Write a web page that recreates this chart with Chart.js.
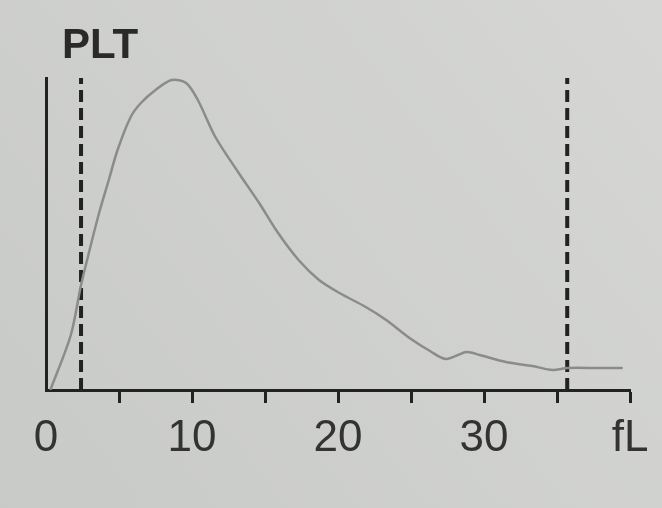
<!DOCTYPE html>
<html>
<head>
<meta charset="utf-8">
<script src="https://cdn.jsdelivr.net/npm/chart.js@4/dist/chart.umd.min.js"></script>
<style>
    html, body { margin: 0; padding: 0; background: #d1d2d0; }
    #wrap { width: 662px; height: 508px; }
</style>
</head>
<body>
<div id="wrap"><canvas id="chart" width="662" height="508"></canvas></div>
<script>
// platelet volume in fL (x) and relative count (y)
const sizes  = [0.3, 1.7, 2.4, 2.9, 3.6, 4.3, 4.9, 5.8, 6.5, 7.5, 8.6, 9.6, 10.4, 11.6, 13.2, 14.6, 15.9, 17.3, 18.7, 20.1, 21.9, 23.3, 24.9, 26.3, 27.4, 28.8, 29.7, 31.5, 33.3, 34.7, 35.7, 37.9, 39.5];
const counts = [0, 55, 105, 135, 175, 210, 240, 273, 287, 300, 310, 307, 290, 253, 217, 187, 157, 130, 110, 97, 83, 70, 52, 39, 31, 38, 35, 28, 24, 20, 22, 22, 22];

// discriminator lines (fL) and their height
const cutoffs = [2.4, 35.7];
const cutoffHeight = 312;

// x axis ticks and their labels
const tickValues = [0, 5, 10, 15, 20, 25, 30, 35, 40];
const tickLabels = ['0', '', '10', '', '20', '', '30', '', 'fL'];

const title = 'PLT';
const ink = '#222222';

// build the datasets
const curve = sizes.map((s, i) => ({ x: s, y: counts[i] }));

const cutoffSets = cutoffs.map(c => ({
    data: [{ x: c, y: 0 }, { x: c, y: cutoffHeight }],
    borderColor: ink,
    borderWidth: 4,
    borderDash: [12, 6],
    pointRadius: 0,
    tension: 0
}));

// paper background
const paper = {
    id: 'paper',
    beforeDraw(chart) {
        const ctx = chart.ctx;
        const g = ctx.createLinearGradient(0, chart.height, chart.width, 0);
        g.addColorStop(0, '#c8cac8');
        g.addColorStop(1, '#d6d7d5');
        ctx.save();
        ctx.fillStyle = g;
        ctx.fillRect(0, 0, chart.width, chart.height);
        ctx.restore();
    }
};

// "PLT" label above the plot
const plotTitle = {
    id: 'plotTitle',
    afterDraw(chart) {
        const ctx = chart.ctx;
        ctx.save();
        ctx.fillStyle = '#2a2a2a';
        ctx.font = 'bold 42px "Liberation Sans", Arial, sans-serif';
        ctx.textBaseline = 'alphabetic';
        ctx.fillText(title, 62, 58);
        ctx.restore();
    }
};

const myChart = document.getElementById('chart');

let chart = new Chart(myChart, {
    type: 'line',
    data: {
        datasets: [{
            data: curve,
            borderColor: '#8b8c8a',
            borderWidth: 2.5,
            pointRadius: 0,
            tension: 0.3
        }, ...cutoffSets]
    },
    options: {
        responsive: false,
        animation: false,
        devicePixelRatio: 1,
        layout: {
            padding: { top: 78, left: 38, right: 32, bottom: 18 }
        },
        plugins: {
            legend: { display: false },
            tooltip: { enabled: false }
        },
        scales: {
            x: {
                type: 'linear',
                min: 0,
                max: 40,
                afterBuildTicks: (scale) => {
                    scale.ticks = tickValues.map(v => ({ value: v }));
                },
                afterFit: (scale) => { scale.height = 100; },
                ticks: {
                    autoSkip: false,
                    maxRotation: 0,
                    padding: 9,
                    color: '#333333',
                    font: { family: '"Liberation Sans", Arial, sans-serif', size: 44 },
                    callback: (v) => tickLabels[tickValues.indexOf(v)]
                },
                grid: {
                    drawOnChartArea: false,
                    tickLength: 13,
                    tickWidth: 3,
                    tickColor: (ctx) => ctx.tick && ctx.tick.value === 0 ? 'rgba(0,0,0,0)' : ink
                },
                border: { color: ink, width: 3 }
            },
            y: {
                min: 0,
                max: cutoffHeight,
                ticks: { display: false },
                grid: { display: false },
                border: { color: ink, width: 3 }
            }
        }
    },
    plugins: [paper, plotTitle]
});
</script>
</body>
</html>
